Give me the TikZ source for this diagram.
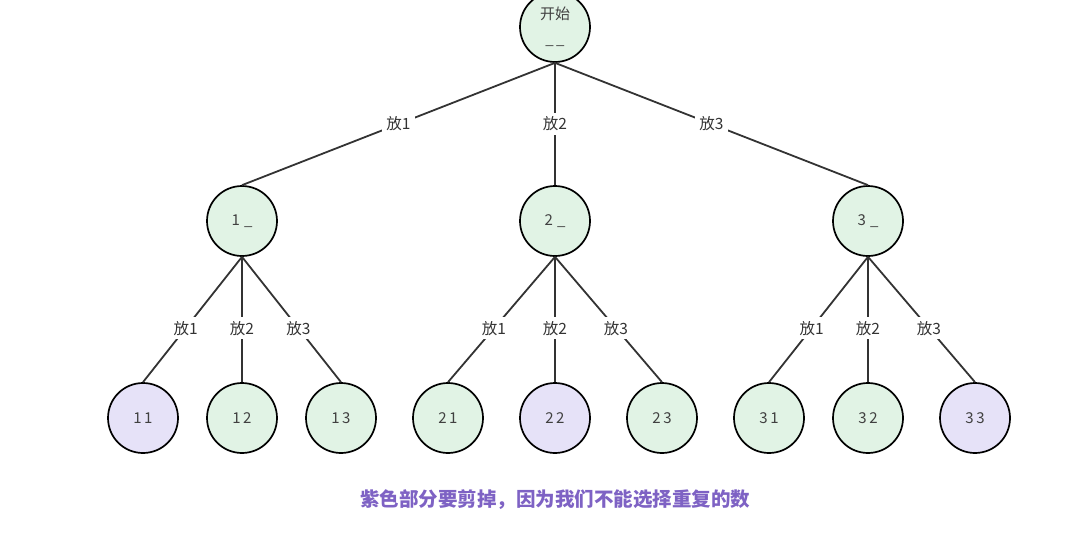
\documentclass[tikz,border=0pt]{standalone}
\usepackage{fontspec}
\setmainfont{Noto Sans CJK SC}
\begin{document}
\begin{tikzpicture}[x=1pt,y=-1pt,
  st/.style={circle,draw=black,line width=1.7pt,minimum size=70pt,inner sep=0pt,text=black!75,font=\fontsize{15}{17}\selectfont,align=center},
  ok/.style={st,fill={rgb,255:red,225;green,243;blue,229}},
  cut/.style={st,fill={rgb,255:red,230;green,226;blue,248}},
  lbl/.style={fill=white,inner sep=4pt,text=black!80,font=\fontsize{15.5}{17}\selectfont},
  edge/.style={line width=1.8pt,draw=black!80}]
\useasboundingbox (0,0) rectangle (1086,533);
\node[ok] (r) at (555,27) {开始\\[8pt]\_\,\_};
\node[ok] (a1) at (242,221) {1\;\_};
\node[ok] (a2) at (555,221) {2\;\_};
\node[ok] (a3) at (868,221) {3\;\_};
\node[cut] (b11) at (143,418) {1\,1};
\node[ok] (b12) at (242,418) {1\,2};
\node[ok] (b13) at (341,418) {1\,3};
\node[ok] (b21) at (448,418) {2\,1};
\node[cut] (b22) at (555,418) {2\,2};
\node[ok] (b23) at (662,418) {2\,3};
\node[ok] (b31) at (769,418) {3\,1};
\node[ok] (b32) at (868,418) {3\,2};
\node[cut] (b33) at (975,418) {3\,3};
\foreach \c/\t in {a1/1,a2/2,a3/3}
  \draw[edge] (r.south) -- node[lbl]{放\t} (\c.north);
\foreach \p in {1,2,3}
  \foreach \t in {1,2,3}
    \draw[edge] (a\p.south) -- node[lbl,pos=0.57]{放\t} (b\p\t.north);
\node[font=\bfseries\fontsize{19.5}{22}\selectfont,text={rgb,255:red,126;green,98;blue,196}] (cap) at (555,500) {紫色部分要剪掉，因为我们不能选择重复的数};
\end{tikzpicture}
\end{document}
